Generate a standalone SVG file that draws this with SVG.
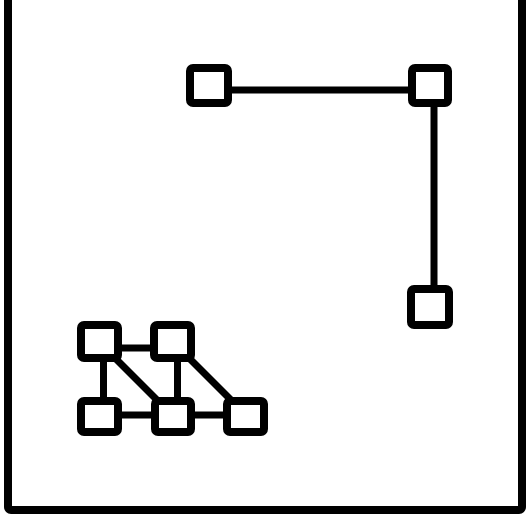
<svg xmlns="http://www.w3.org/2000/svg" width="526" height="520" viewBox="0 0 526 520">
<style>
.frame{fill:none;stroke:#000;stroke-width:8}
.node{fill:#fff;stroke:#000;stroke-width:8}
.edge{stroke:#000;stroke-width:7;fill:none}
</style>
<rect width="526" height="520" fill="#fff"/>
<rect class="frame" x="8" y="-20" width="514" height="530" rx="3"/>
<g id="connectors">
<line class="edge" x1="209" y1="90" x2="430" y2="90"/>
<line class="edge" x1="434" y1="86" x2="434" y2="308"/>
<line class="edge" x1="99" y1="348" x2="173" y2="348"/>
<line class="edge" x1="99" y1="415" x2="246" y2="415"/>
<line class="edge" x1="103.5" y1="342" x2="103.5" y2="416"/>
<line class="edge" x1="177.5" y1="342" x2="177.5" y2="416"/>
<line class="edge" x1="100" y1="343" x2="172" y2="415"/>
<line class="edge" x1="174" y1="343" x2="246" y2="415"/>
</g>
<g id="n1"><rect class="node" x="190" y="68" width="38" height="35" rx="3"/></g>
<g id="n2"><rect class="node" x="412" y="68" width="36" height="35" rx="3"/></g>
<g id="n3"><rect class="node" x="411" y="289" width="38" height="36" rx="3"/></g>
<g id="a"><rect class="node" x="81" y="325" width="37" height="33" rx="3"/></g>
<g id="b"><rect class="node" x="154" y="325" width="37" height="33" rx="3"/></g>
<g id="c"><rect class="node" x="81" y="401" width="37" height="31" rx="3"/></g>
<g id="d"><rect class="node" x="155" y="401" width="36" height="31" rx="3"/></g>
<g id="e"><rect class="node" x="227" y="401" width="37" height="31" rx="3"/></g>
</svg>
